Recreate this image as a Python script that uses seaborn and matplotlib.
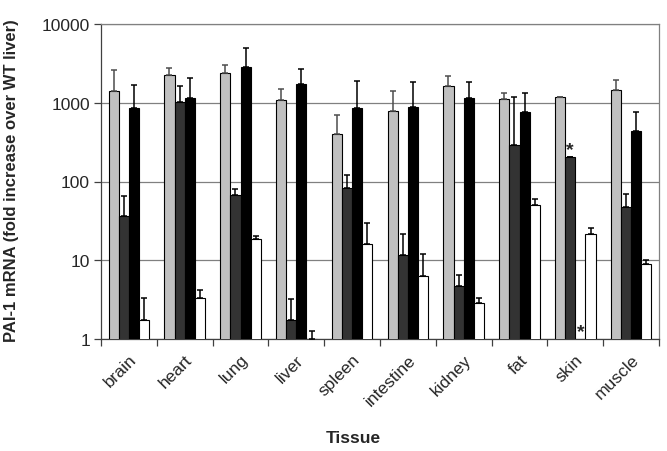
import numpy as np
import pandas as pd
import matplotlib
matplotlib.use("Agg")
import matplotlib.pyplot as plt
import seaborn as sns

tissues = ["brain", "heart", "lung", "liver", "spleen", "intestine", "kidney", "fat", "skin", "muscle"]
series = ["S1", "S2", "S3", "S4"]
s1 = [1420, 2250, 2410, 1075, 400, 780, 1630, 1105, 1185, 1440]
s1_hi = [2630, 2760, 3050, 1500, 705, 1410, 2190, 1345, 1200, 1930]
s2 = [37, 1010, 68, 1.76, 83, 11.5, 4.7, 288, 203, 48]
s2_hi = [65, 1650, 81, 3.2, 122, 21.8, 6.5, 1180, 206, 69]
s3 = [860, 1150, 2870, 1730, 866, 875, 1160, 763, np.nan, 433]
s3_hi = [1680, 2060, 5010, 2680, 1870, 1850, 1830, 1345, np.nan, 770]
s4 = [1.76, 3.35, 18.4, 1.0, 15.9, 6.25, 2.87, 50.8, 21.3, 8.96]
s4_hi = [3.35, 4.23, 20.5, 1.26, 30, 12, 3.35, 60, 25.9, 10.2]
colors = ["#c0c0c0", "#333333", "#000000", "#ffffff"]
err_colors = ["#4d4d4d", "#000000", "#000000", "#000000"]

vals = [s1, s2, s3, s4]
his = [s1_hi, s2_hi, s3_hi, s4_hi]
df = pd.DataFrame({
    "tissue": np.repeat([tissues], 4, axis=0).ravel(),
    "series": np.repeat(series, len(tissues)),
    "value": np.concatenate(vals),
})

sns.set_style("white")
plt.rcParams["font.family"] = ["Liberation Sans", "DejaVu Sans"]

fig = plt.figure(figsize=(6.67, 4.52), dpi=100)
ax = fig.add_axes([101 / 667, 1 - 340 / 452, 558 / 667, 315 / 452])
ax.set_yscale("log")
W = 0.73
sns.barplot(data=df, x="tissue", y="value", hue="series", order=tissues, hue_order=series,
            palette=colors, saturation=1, edgecolor="black", linewidth=0.8, width=W,
            errorbar=None, legend=False, ax=ax, zorder=3)
ax.set_ylim(1, 10000)
ax.set_xlim(-0.5, len(tissues) - 0.5)

bw = W / 4
idx = np.arange(len(tissues))
for j in range(4):
    xs = idx - W / 2 + bw * (j + 0.5)
    v = np.array(vals[j], dtype=float)
    h = np.array(his[j], dtype=float)
    m = ~np.isnan(v)
    ax.errorbar(xs[m], v[m], yerr=[np.zeros(m.sum()), h[m] - v[m]], fmt="none",
                ecolor=err_colors[j], elinewidth=1.1, capsize=2.2, capthick=1.1, zorder=4)

# asterisks on skin
k = tissues.index("skin")
x2 = k - W / 2 + bw * 1.5
x3 = k - W / 2 + bw * 2.5
ax.text(x2, s2_hi[k] * 0.97, "*", ha="center", va="bottom", fontsize=14, fontweight="bold", zorder=5)
ax.text(x3, 0.97, "*", ha="center", va="bottom", fontsize=14, fontweight="bold", zorder=5)

# grid & frame
ax.set_yticks([1, 10, 100, 1000, 10000])
ax.set_yticklabels(["1", "10", "100", "1000", "10000"])
ax.yaxis.set_minor_locator(matplotlib.ticker.NullLocator())
ax.grid(axis="y", color="#808080", linewidth=0.9, zorder=0)
ax.set_axisbelow(True)
for s in ["top", "right"]:
    ax.spines[s].set_visible(True)
    ax.spines[s].set_color("#808080")
    ax.spines[s].set_linewidth(0.9)
for s in ["left", "bottom"]:
    ax.spines[s].set_color("#404040")
    ax.spines[s].set_linewidth(0.9)

ax.set_xticks(idx)
ax.set_xticklabels(tissues, rotation=45, ha="right", rotation_mode="anchor", fontsize=12.5)
ax.set_xticks(np.arange(-0.5, len(tissues)), minor=True)
ax.tick_params(axis="x", which="major", length=0, pad=9)
ax.tick_params(axis="x", which="minor", length=5, direction="out", color="#404040", width=0.9, bottom=True)
ax.tick_params(axis="y", which="major", length=5, direction="out", color="#404040", width=0.9, labelsize=12.5, left=True, pad=3)

ax.set_xlabel("Tissue", fontsize=12.5, fontweight="bold")
ax.set_ylabel("PAI-1 mRNA (fold increase over WT liver)", fontsize=12, fontweight="bold")
ax.xaxis.set_label_coords(0.452, -0.29)
ax.yaxis.set_label_coords(-0.147, 0.505)

fig.savefig("out.png", dpi=100)
